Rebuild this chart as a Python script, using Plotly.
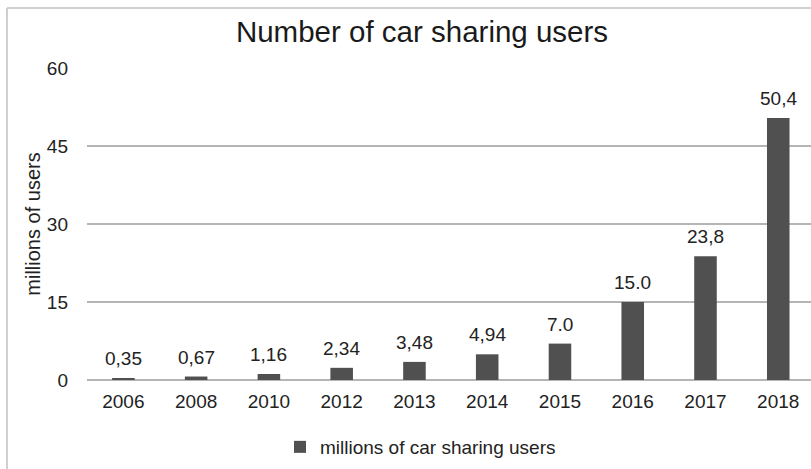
import plotly.graph_objects as go

years = ["2006", "2008", "2010", "2012", "2013", "2014", "2015", "2016", "2017", "2018"]
users = [0.35, 0.67, 1.16, 2.34, 3.48, 4.94, 7.0, 15.0, 23.8, 50.4]
labels = ["0,35", "0,67", "1,16", "2,34", "3,48", "4,94", "7.0", "15.0", "23,8", "50,4"]
y_ticks = [0, 15, 30, 45, 60]

W, H = 811, 469
L, R, T, B = 87, 0, 68, 89
pw, ph = W - L - R, H - T - B

def px_x(x):
    return (x - L) / pw

def px_y(y):
    return (H - B - y) / ph

FS = 19

fig = go.Figure()
fig.add_trace(go.Bar(
    x=years, y=users,
    marker=dict(color="#505050", line=dict(width=0)),
    width=0.31, name="millions of car sharing users",
))

for i, (v, lab) in enumerate(zip(users, labels)):
    fig.add_annotation(x=i, y=v, xref="x", yref="y", text=lab, showarrow=False,
                       xanchor="center", yanchor="bottom",
                       yshift=7, font=dict(size=FS, color="#222222"))

fig.update_layout(
    width=W, height=H,
    margin=dict(l=L, r=R, t=T, b=B),
    paper_bgcolor="white", plot_bgcolor="white",
    font=dict(family="Liberation Sans, Arial, sans-serif", size=FS, color="#222222"),
    title=dict(text="Number of car sharing users", x=px_x(422), xref="paper", xanchor="center",
               y=1 - 32 / H, yanchor="middle", font=dict(size=29.5, color="#1a1a1a")),
    showlegend=True,
    legend=dict(orientation="h", x=px_x(280), xanchor="left", y=px_y(447), yanchor="middle",
                font=dict(size=FS), itemwidth=30),
    xaxis=dict(type="category", range=[-0.5, 9.45], showgrid=False, showline=False,
               ticks="", ticklabelstandoff=8, tickfont=dict(size=FS)),
    yaxis=dict(range=[0, 60], tickvals=y_ticks, showgrid=True, gridcolor="#b5b5b5", gridwidth=1.5,
               zeroline=True, zerolinecolor="#b5b5b5", zerolinewidth=2, showline=False,
               ticks="", ticklabelstandoff=18, tickfont=dict(size=FS),
               title=dict(text="millions of users", font=dict(size=20), standoff=0)),
)

# outer chart border (left and top visible; right/bottom cropped)
fig.add_shape(type="line", xref="paper", yref="paper",
              x0=px_x(7), x1=px_x(7), y0=px_y(8), y1=px_y(H + 5),
              line=dict(color="#c0c0c0", width=1.5))
fig.add_shape(type="line", xref="paper", yref="paper",
              x0=px_x(7), x1=px_x(W + 5), y0=px_y(8), y1=px_y(8),
              line=dict(color="#c0c0c0", width=1.5))

fig.write_html("out.html", config={"displayModeBar": False},
               post_script="document.body.style.margin='0';document.body.style.overflow='hidden';")
